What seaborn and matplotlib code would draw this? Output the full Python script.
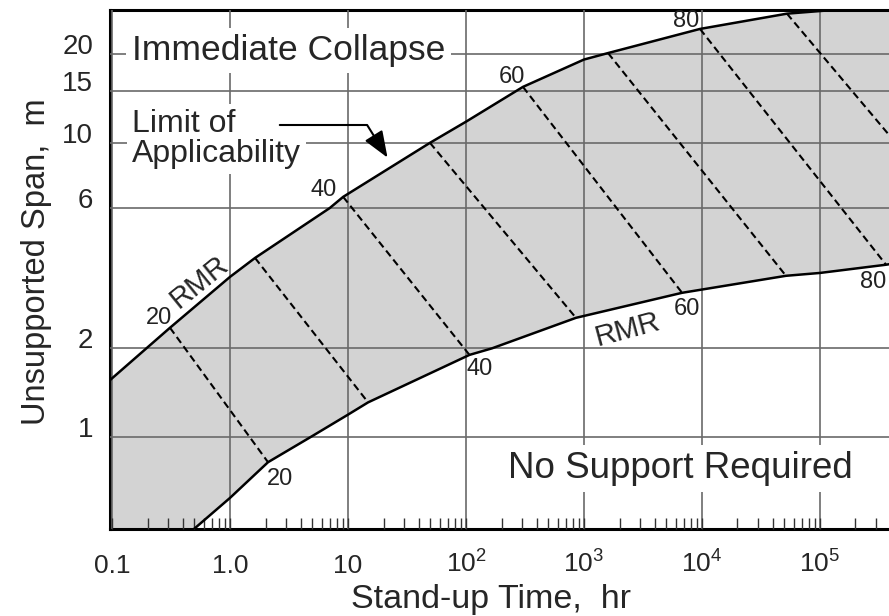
import numpy as np
import pandas as pd
import matplotlib
matplotlib.use("Agg")
import matplotlib.pyplot as plt
from matplotlib.ticker import LogLocator, NullFormatter, FixedLocator
import seaborn as sns

# Limit of applicability (upper bound of the RMR band): stand-up time [hr], span [m]
upper_time = [0.0962, 0.31, 1.0, 1.63, 7.0, 9.1, 49.5, 100, 304, 1000, 1600, 9620, 52500, 129000, 400000]
upper_span = [1.56, 2.35, 3.50, 4.06, 6.0, 6.55, 10.0, 11.8, 15.5, 19.2, 20.2, 24.4, 27.5, 28.3, 29.0]

# Lower bound of the band (no support required below it)
lower_time = [0.0962, 0.495, 1.0, 2.10, 4.85, 10, 14.8, 107, 166, 855, 6780, 51500, 100000, 363000, 2500000]
lower_span = [0.27, 0.486, 0.62, 0.82, 1.0, 1.19, 1.31, 1.90, 2.0, 2.54, 3.09, 3.53, 3.61, 3.85, 4.36]

# RMR contours: endpoints on the upper and lower bounds
rmr = [20, 30, 40, 50, 60, 70, 80, 90]
rmr_upper_time = [0.31, 1.63, 9.1, 49.5, 304, 1600, 9620, 52500]
rmr_upper_span = [2.35, 4.06, 6.55, 10.0, 15.5, 20.2, 24.4, 27.5]
rmr_lower_time = [2.10, 14.8, 107, 855, 6780, 51500, 363000, 2500000]
rmr_lower_span = [0.82, 1.31, 1.90, 2.54, 3.09, 3.53, 3.85, 4.36]

x_ticks = [0.1, 1, 10, 100, 1e3, 1e4, 1e5]
x_tick_labels = ["0.1", "1.0", "10", "$10^2$", "$10^3$", "$10^4$", "$10^5$"]
y_ticks = [1, 2, 6, 10, 15, 20]
y_tick_labels = ["1", "2", "6", "10", "15", "20"]

sns.set_theme(style="white")
plt.rcParams["font.family"] = ["Liberation Sans", "DejaVu Sans"]
plt.rcParams["mathtext.fontset"] = "custom"
plt.rcParams["mathtext.rm"] = "Liberation Sans"
plt.rcParams["mathtext.it"] = "Liberation Sans:italic"

W, H = 889, 616
fig = plt.figure(figsize=(W / 100, H / 100), dpi=100)
ax = fig.add_axes([110 / W, 87 / H, 779 / W, 519 / H])
ax.set_xscale("log")
ax.set_yscale("log")
ax.set_xlim(10 ** -1.017, 10 ** 5.585)
ax.set_ylim(0.486, 28.3)


def frac(px, py):
    """pixel position inside the plot frame -> axes fraction"""
    return (px - 110) / 779, (529 - py) / 519


# shaded band between the two bounds
band_x = upper_time + lower_time[::-1]
band_y = upper_span + lower_span[::-1]
ax.fill(band_x, band_y, color="#d3d3d3", lw=0, zorder=0.5)

curves = pd.DataFrame({
    "time": upper_time + lower_time,
    "span": upper_span + lower_span,
    "bound": ["upper"] * len(upper_time) + ["lower"] * len(lower_time),
})
sns.lineplot(data=curves, x="time", y="span", units="bound", estimator=None,
             sort=False, color="black", lw=1.8, ax=ax, zorder=3)

contours = pd.DataFrame({
    "time": rmr_upper_time + rmr_lower_time,
    "span": rmr_upper_span + rmr_lower_span,
    "rmr": rmr + rmr,
})
sns.lineplot(data=contours, x="time", y="span", units="rmr", estimator=None,
             color="black", lw=1.5, ax=ax, zorder=2.8, linestyle=(0, (3.5, 2)))

# RMR value labels on both bounds
up_offsets = {20: (-8, 7), 40: (-14, 5), 60: (-8, 7), 80: (-10, 5.5)}
lo_offsets = {20: (8.3, -12), 40: (7.2, -10), 60: (3.5, -11.5), 80: (-9, -12.5)}
num_style = dict(textcoords="offset points", ha="center", va="center",
                 fontsize=17, color="#222222", zorder=5, annotation_clip=False)
for r, t, s in zip(rmr, rmr_upper_time, rmr_upper_span):
    if r in up_offsets:
        ax.annotate(str(r), (t, s), xytext=up_offsets[r], **num_style)
for r, t, s in zip(rmr, rmr_lower_time, rmr_lower_span):
    if r in lo_offsets:
        ax.annotate(str(r), (t, s), xytext=lo_offsets[r], **num_style)

ax.text(*frac(199, 282), "RMR", transform=ax.transAxes,
        rotation=39, ha="center", va="center", fontsize=21, zorder=5)
ax.text(*frac(628, 330), "RMR", transform=ax.transAxes,
        rotation=15, ha="center", va="center", fontsize=21, zorder=5)

box = dict(facecolor="white", edgecolor="none", pad=4)
ax.text(*frac(132, 60), "Immediate Collapse", transform=ax.transAxes,
        ha="left", va="baseline", fontsize=25.5, bbox=box, zorder=4)
ax.text(*frac(132, 139), "Limit of\nApplicability",
        transform=ax.transAxes, ha="left", va="center", fontsize=23,
        linespacing=0.98, bbox=box, zorder=4)
ax.text(*frac(680, 478), "No Support Required",
        transform=ax.transAxes, ha="center", va="baseline", fontsize=26.5,
        bbox=box, zorder=4)

ax.annotate("", xy=frac(389, 160), xytext=frac(277, 125),
            xycoords="axes fraction", textcoords="axes fraction",
            arrowprops=dict(arrowstyle="-|>,head_length=0.9,head_width=0.35",
                            connectionstyle="angle,angleA=0,angleB=122,rad=0",
                            color="black", lw=1.5, mutation_scale=18), zorder=4)

# axes, grid and ticks
ax.xaxis.set_major_locator(FixedLocator(x_ticks))
ax.set_xticklabels(x_tick_labels)
ax.xaxis.set_minor_locator(LogLocator(base=10, subs=np.arange(2, 10)))
ax.xaxis.set_minor_formatter(NullFormatter())
ax.yaxis.set_major_locator(FixedLocator(y_ticks))
ax.set_yticklabels(y_tick_labels)
ax.yaxis.set_minor_locator(FixedLocator([]))

ax.set_axisbelow(False)
ax.grid(True, which="major", color="#6a6a6a", lw=1.2, zorder=2.5)
ax.tick_params(axis="x", which="both", direction="in", bottom=True, top=False,
               length=8, width=1, color="#333333", labelsize=19, pad=31.5)
ax.tick_params(axis="y", which="both", left=False, right=False, labelsize=20, pad=6)
for lbl in ax.get_xticklabels():
    lbl.set_va("baseline")
for lbl in ax.get_yticklabels():
    lbl.set_va("baseline")

for side in ["left", "bottom", "top"]:
    ax.spines[side].set_visible(True)
    ax.spines[side].set_color("black")
    ax.spines[side].set_linewidth(2.2)
ax.spines["right"].set_visible(False)

ax.set_xlabel("Stand-up Time,  hr", fontsize=24.5)
ax.set_ylabel("Unsupported Span,  m", fontsize=23.5)
ax.xaxis.label.set_va("baseline")
ax.yaxis.label.set_va("baseline")
ax.xaxis.set_label_coords(*frac(491, 608))
ax.yaxis.set_label_coords(*frac(45, 262))
if ax.get_legend() is not None:
    ax.get_legend().remove()

fig.savefig("out.png", dpi=100)
